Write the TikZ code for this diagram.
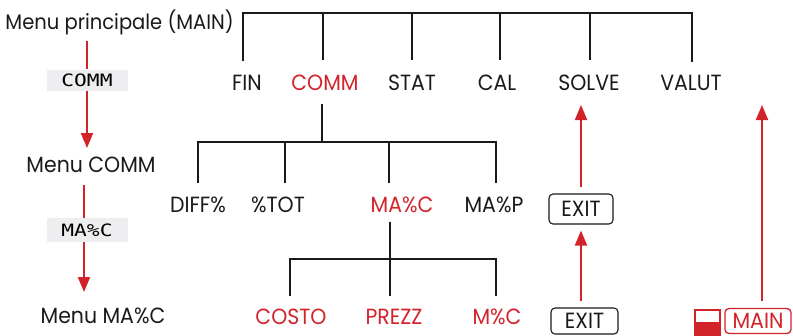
\documentclass[tikz,border=0pt]{standalone}
\usepackage{fontspec}
\setmainfont[FakeStretch=0.93]{Poppins}
\newfontfamily\lcdfont[FakeStretch=1.25]{DejaVu Sans Mono}
\usetikzlibrary{arrows.meta}
\definecolor{hpred}{HTML}{D2232A}
\definecolor{hpblack}{HTML}{1A1A1A}
\definecolor{keygrey}{HTML}{EEEEF0}
\begin{document}
\begin{tikzpicture}[x=1pt,y=-1pt,
  lbl/.style={font=\fontsize{22}{26}\selectfont, inner sep=0pt, anchor=center, text=hpblack},
  redlbl/.style={lbl, text=hpred},
  tree/.style={draw=hpblack, line width=2pt},
  redline/.style={draw=hpred, line width=2pt},
  redarrow/.style={draw=hpred, line width=2pt, -{Triangle[width=12pt,length=15pt]}},
  lcdkey/.style={fill=keygrey, draw=none, minimum width=81pt, inner sep=0pt, font=\lcdfont\fontsize{17}{19}\selectfont, text=black},
  exitkey/.style={lbl, draw=hpblack, line width=1.1pt, rounded corners=4pt},
  mainkey/.style={redlbl, draw=hpred, line width=1.3pt, rounded corners=4pt}]
\useasboundingbox (0,0) rectangle (793,335);

% left column
\node[lbl, font=\fontsize{21}{25}\selectfont, anchor=east] (menumain) at (234,22) {Menu principale (MAIN)};
\node[lcdkey, minimum height=21pt] (kcomm) at (87,80) {COMM};
\node[lbl] (menucomm) at (91,165) {Menu COMM};
\node[lcdkey, minimum height=24pt] (kmac) at (87,230) {MA\%C};
\node[lbl] (menumac) at (103,316) {Menu MA\%C};
\coordinate (l1) at (87,41);
\coordinate (l2) at (84,185);
\draw[redline] (l1) -- (kcomm.north -| l1);
\draw[redarrow] (kcomm.south -| l1) -- (87,148);
\draw[redline] (l2) -- (kmac.north -| l2);
\draw[redarrow] (kmac.south -| l2) -- (84,292);

% top level
\node[lbl] (fin) at (247,83) {FIN};
\node[redlbl] (comm) at (325,83) {COMM};
\node[lbl] (stat) at (412,83) {STAT};
\node[lbl] (cal) at (497,83) {CAL};
\node[lbl] (solve) at (589,83) {SOLVE};
\node[lbl] (valut) at (691,83) {VALUT};
\coordinate (tl) at (243,13);
\coordinate (tr) at (692,13);
\draw[tree] (243,61) -- (tl) -- (tr) -- (692,62);
\draw[tree] (323,13) -- (323,60);
\draw[tree] (412,13) -- (412,60);
\draw[tree] (500,13) -- (500,60);
\draw[tree] (590,13) -- (590,60);

% COMM submenu
\node[lbl] (diff) at (198,205) {DIFF\%};
\node[lbl] (tot) at (278,205) {\%TOT};
\node[redlbl] (mac) at (402,205) {MA\%C};
\node[lbl] (map) at (494,205) {MA\%P};
\coordinate (c1) at (322,104);
\coordinate (c2) at (322,142);
\draw[tree] (c1) -- (c2);
\draw[tree] (198,183) -- (198,142) -- (496,142) -- (496,183);
\draw[tree] (285,142) -- (285,183);
\draw[tree] (389,142) -- (389,183);

% MA%C submenu
\node[redlbl] (costo) at (291,317) {COSTO};
\node[redlbl] (prezz) at (394,317) {PREZZ};
\node[redlbl] (mpc) at (497,317) {M\%C};
\coordinate (m1) at (390,222);
\coordinate (m2) at (390,259);
\draw[tree] (m1) -- (m2);
\draw[tree] (290,296) -- (290,259) -- (496,259) -- (496,296);
\draw[tree] (390,259) -- (390,296);

% EXIT keys
\node[exitkey, minimum width=64pt, minimum height=30pt] (exit1) at (581,209) {EXIT};
\node[exitkey, minimum width=67pt, minimum height=26pt] (exit2) at (584.5,321) {EXIT};
\draw[redarrow] ([yshift=6pt]exit2.north -| exit1) -- ([yshift=-6pt]exit1.south);
\draw[redarrow] ([yshift=6pt]exit1.north) -- (581,105);

% shift + MAIN
\node[mainkey, minimum width=66pt, minimum height=25pt] (mainkey) at (758,321) {MAIN};
\draw[hpred, line width=1.6pt] (694.8,309.8) rectangle (720.2,336);
\fill[hpred] (694,322) rectangle (721,336);
\coordinate (r1) at (762,105);
\draw[redarrow] ([yshift=7pt]mainkey.north -| r1) -- (r1);
\end{tikzpicture}
\end{document}
